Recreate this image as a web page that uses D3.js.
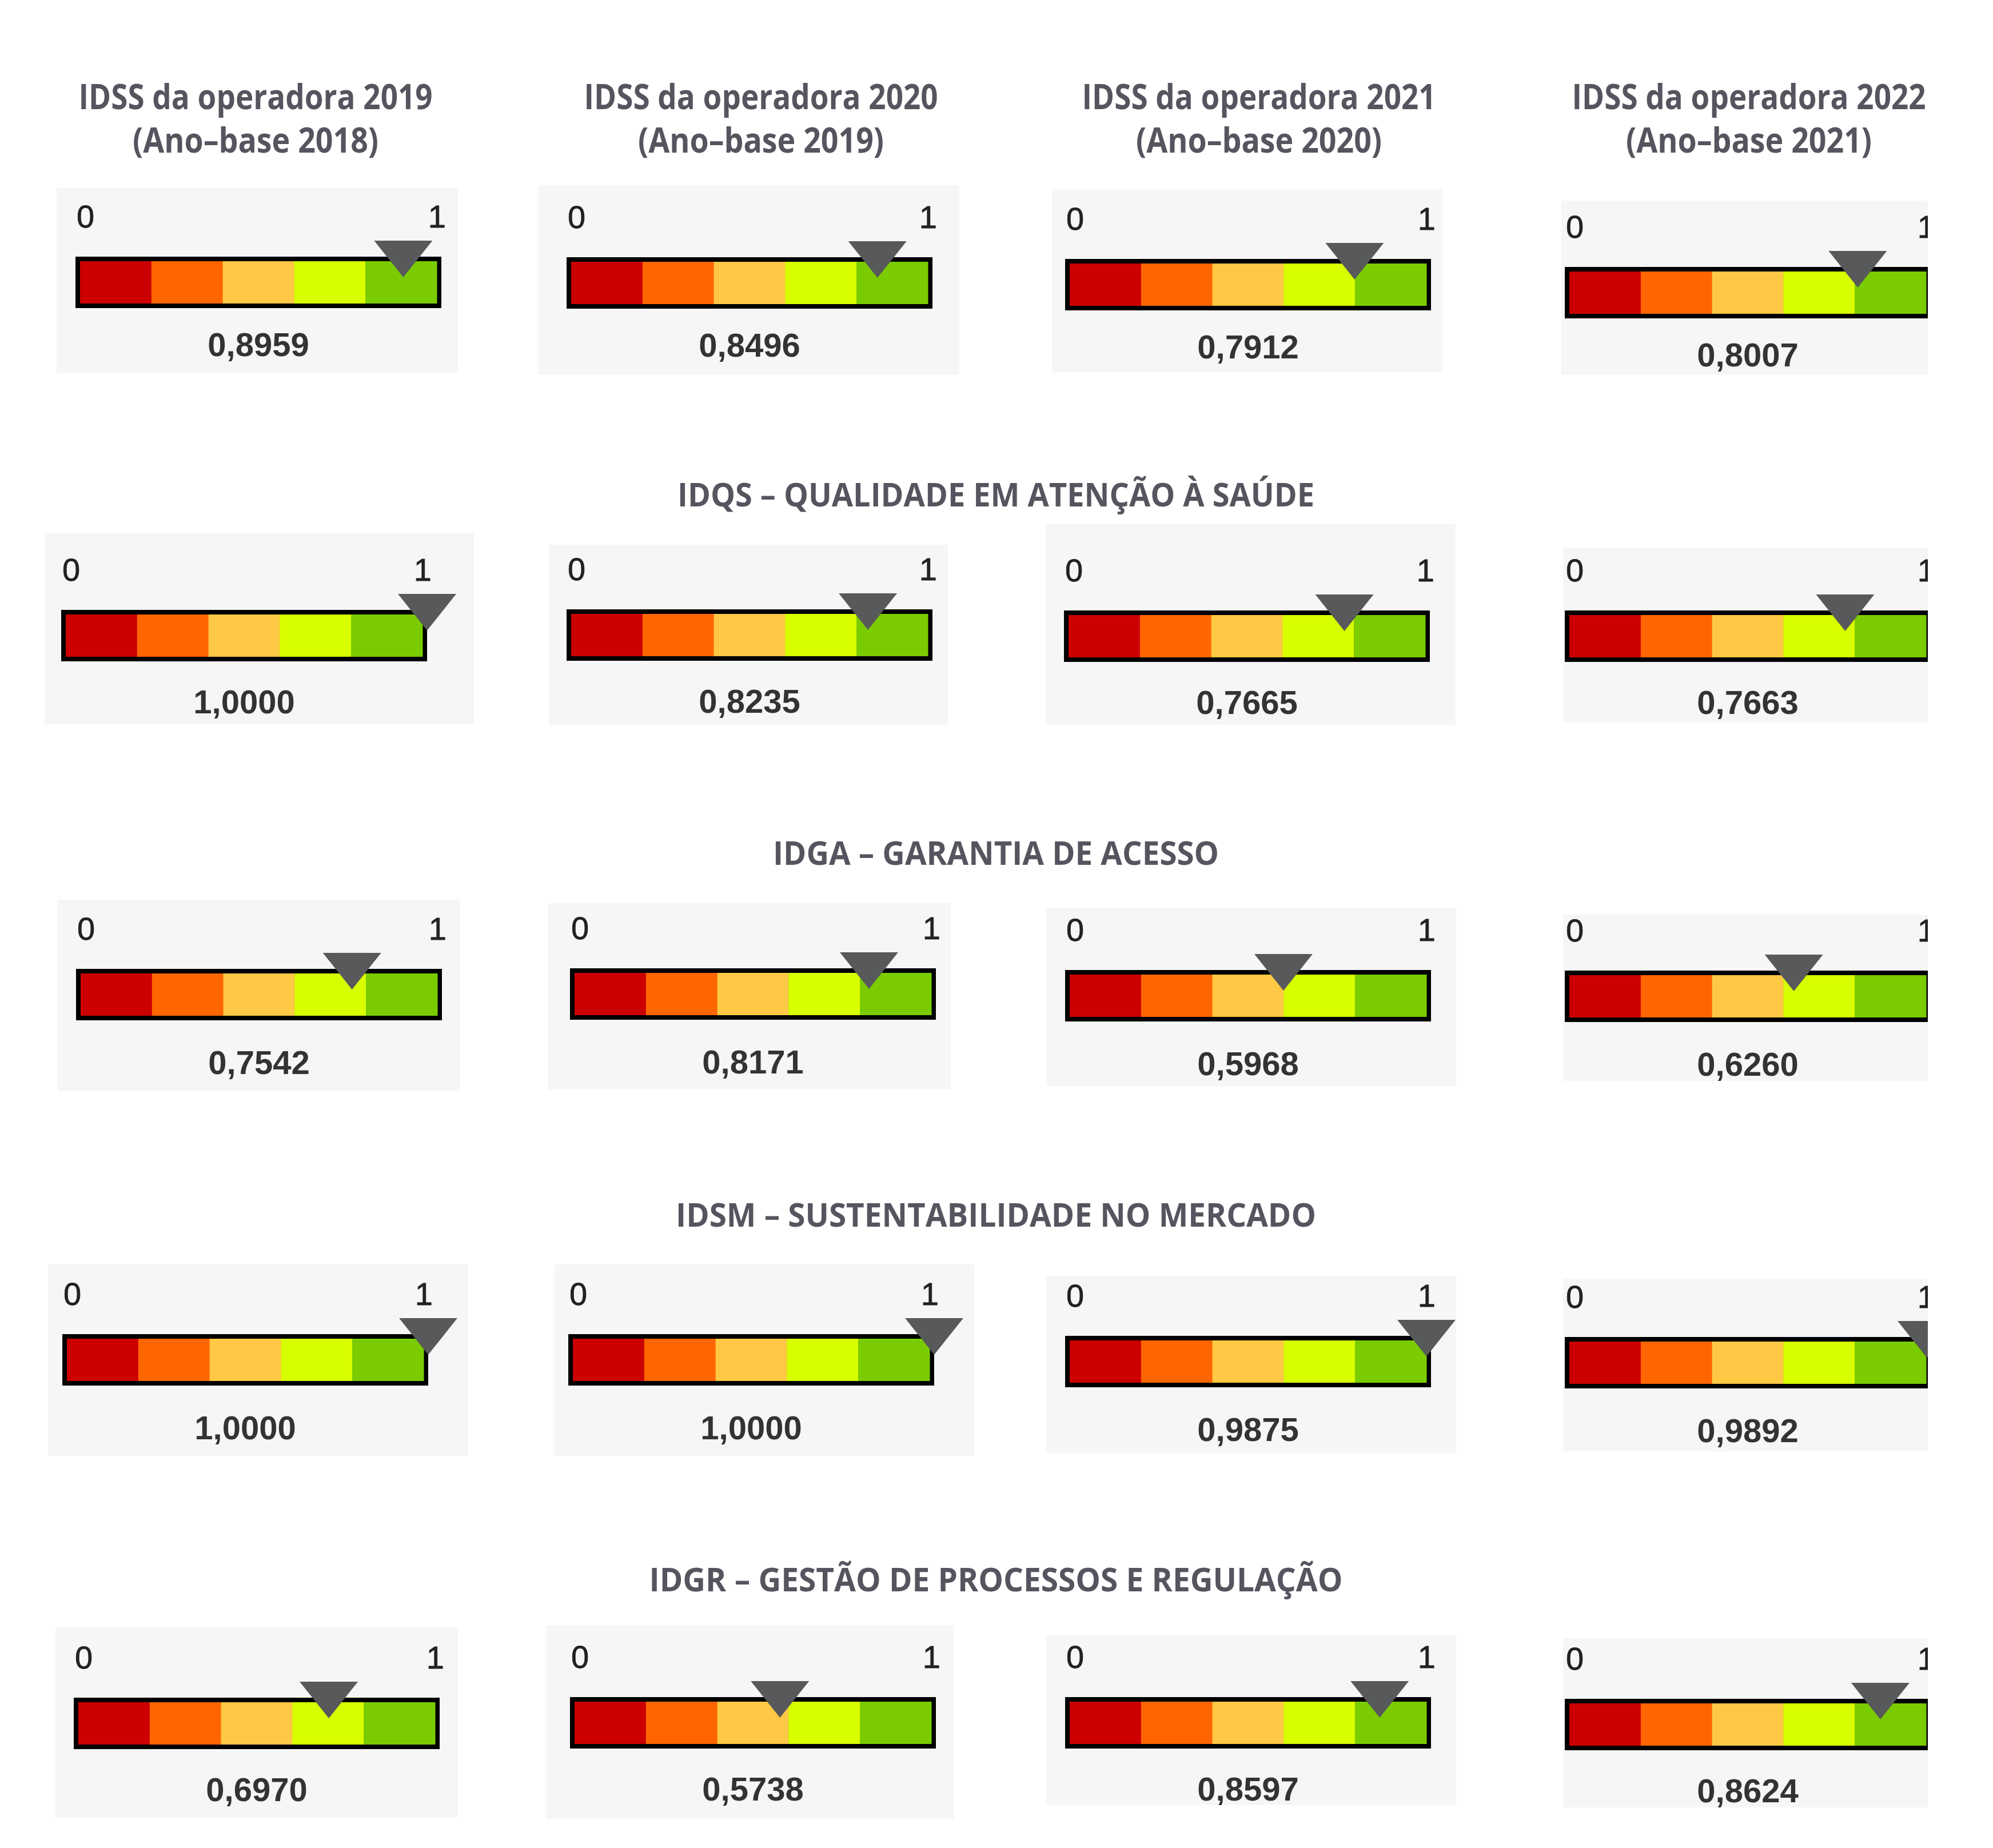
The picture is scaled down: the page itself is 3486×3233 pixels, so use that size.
<!DOCTYPE html>
<html>
<head>
<meta charset="utf-8">
<script src="https://cdn.jsdelivr.net/npm/d3@7"></script>
<style>
  body { margin: 0; background: #fff; }
</style>
</head>
<body>
<svg id="chart" width="3486" height="3233"></svg>
<script>
// ---- data ----
const years = ["2019", "2020", "2021", "2022"];
const baseYears = ["2018", "2019", "2020", "2021"];
const sectionTitles = [
  null,
  "IDQS – QUALIDADE EM ATENÇÃO À SAÚDE",
  "IDGA – GARANTIA DE ACESSO",
  "IDSM – SUSTENTABILIDADE NO MERCADO",
  "IDGR – GESTÃO DE PROCESSOS E REGULAÇÃO"
];
const idss = [0.8959, 0.8496, 0.7912, 0.8007];
const idqs = [1.0, 0.8235, 0.7665, 0.7663];
const idga = [0.7542, 0.8171, 0.5968, 0.626];
const idsm = [1.0, 1.0, 0.9875, 0.9892];
const idgr = [0.697, 0.5738, 0.8597, 0.8624];
const scaleEnds = [0, 1];

// ---- layout (pixels) ----
const bandColors = ["#cc0000", "#ff6600", "#ffc845", "#d7ff00", "#7acc00"];
const barW = 640, barH = 90, border = 8;
const titleX = [447, 1331, 2202, 3059];
const sectionY = [null, 886, 1513, 2146, 2784];
const sectionW = [null, 1114, 780, 1120, 1213];
// bar top-left corner per row / column
const barPos = [
  [[132, 449], [991, 450], [1863, 453], [2737, 467]],
  [[107, 1067], [991, 1066], [1861, 1068], [2737, 1068]],
  [[133, 1695], [997, 1694], [1863, 1697], [2737, 1698]],
  [[109, 2334], [994, 2334], [1863, 2337], [2737, 2339]],
  [[129, 2970], [997, 2969], [1863, 2969], [2737, 2972]]
];
// grey box behind each gauge: x0, y0, x1, y1
const boxPos = [
  [[99, 328, 801, 652], [942, 324, 1678, 656], [1840, 331, 2523, 651], [2731, 351, 3372, 656]],
  [[78, 932, 829, 1267], [960, 953, 1658, 1268], [1829, 916, 2546, 1268], [2734, 958, 3372, 1264]],
  [[100, 1574, 804, 1909], [958, 1580, 1663, 1906], [1830, 1588, 2547, 1900], [2734, 1600, 3372, 1891]],
  [[84, 2212, 819, 2547], [970, 2212, 1704, 2547], [1830, 2232, 2547, 2542], [2734, 2237, 3372, 2539]],
  [[97, 2847, 801, 3180], [956, 2843, 1668, 3182], [1830, 2861, 2547, 3158], [2734, 2866, 3372, 3162]]
];
const valueDy = [84, 91, 94, 94, 91];

const svg = d3.select("#chart");
const titleFont = "'Open Sans', 'Noto Sans', sans-serif";
const numFont = "'Liberation Sans', Arial, sans-serif";
const titleColor = "#55555f";

const ptBR = d3.formatLocale({ decimal: ",", thousands: ".", grouping: [3], currency: ["R$", ""] });
const fmt = ptBR.format(".4f");

const rows = [idss, idqs, idga, idsm, idgr];

// x scale inside a bar, and the colour bands
const x = d3.scaleLinear().domain(d3.extent(scaleEnds)).range([0, barW]);
const bandEdges = d3.range(bandColors.length + 1).map((i) => i / bandColors.length);

// column titles
years.forEach((y, i) => {
  const t = svg.append("text")
    .attr("text-anchor", "middle")
    .attr("font-family", titleFont)
    .attr("font-weight", 700)
    .attr("font-size", 60)
    .attr("fill", titleColor);
  t.append("tspan").attr("x", titleX[i]).attr("y", 191)
    .attr("textLength", 619).attr("lengthAdjust", "spacingAndGlyphs")
    .text(`IDSS da operadora ${y}`);
  t.append("tspan").attr("x", titleX[i]).attr("y", 267)
    .attr("textLength", 430).attr("lengthAdjust", "spacingAndGlyphs")
    .text(`(Ano–base ${baseYears[i]})`);
});

// section headers
sectionTitles.forEach((s, r) => {
  if (!s) return;
  svg.append("text")
    .attr("x", 1742)
    .attr("y", sectionY[r])
    .attr("text-anchor", "middle")
    .attr("font-family", titleFont)
    .attr("font-weight", 700)
    .attr("font-size", 58)
    .attr("fill", titleColor)
    .attr("textLength", sectionW[r])
    .attr("lengthAdjust", "spacingAndGlyphs")
    .text(s);
});

const defs = svg.append("defs");

rows.forEach((vals, r) => {
  vals.forEach((v, c) => {
    const [bx, by] = barPos[r][c];
    const [x0, y0, x1, y1] = boxPos[r][c];
    const id = `clip-${r}-${c}`;
    defs.append("clipPath").attr("id", id)
      .append("rect").attr("x", x0).attr("y", y0).attr("width", x1 - x0).attr("height", y1 - y0);

    const panel = svg.append("g").attr("clip-path", `url(#${id})`);

    panel.append("rect")
      .attr("x", x0).attr("y", y0)
      .attr("width", x1 - x0).attr("height", y1 - y0)
      .attr("fill", "#f6f6f6");

    const g = panel.append("g").attr("transform", `translate(${bx},${by})`);

    // bar border + bands
    g.append("rect")
      .attr("width", barW).attr("height", barH)
      .attr("fill", "#000");
    g.selectAll("rect.band")
      .data(bandColors)
      .join("rect")
      .attr("class", "band")
      .attr("x", (d, i) => border + (barW - 2 * border) * bandEdges[i])
      .attr("y", border)
      .attr("width", (barW - 2 * border) / bandColors.length + 0.5)
      .attr("height", barH - 2 * border)
      .attr("fill", (d) => d);

    // end labels 0 and 1
    g.selectAll("text.end")
      .data(scaleEnds)
      .join("text")
      .attr("class", "end")
      .attr("x", (d) => (d === 0 ? x(d) + 2 : x(d) + 8))
      .attr("y", -51)
      .attr("text-anchor", (d) => (d === 0 ? "start" : "end"))
      .attr("font-family", numFont)
      .attr("font-size", 56)
      .attr("stroke", "#222")
      .attr("stroke-width", 0.8)
      .attr("fill", "#222")
      .text((d) => d);

    // marker
    const mx = x(v);
    g.append("path")
      .attr("d", `M${mx - 51},-28 L${mx + 51},-28 L${mx},36 Z`)
      .attr("fill", "#58595a");

    // value
    g.append("text")
      .attr("x", barW / 2)
      .attr("y", barH + valueDy[r])
      .attr("text-anchor", "middle")
      .attr("font-family", numFont)
      .attr("font-weight", 700)
      .attr("font-size", 58)
      .attr("fill", "#333")
      .text(fmt(v));
  });
});
</script>
</body>
</html>
